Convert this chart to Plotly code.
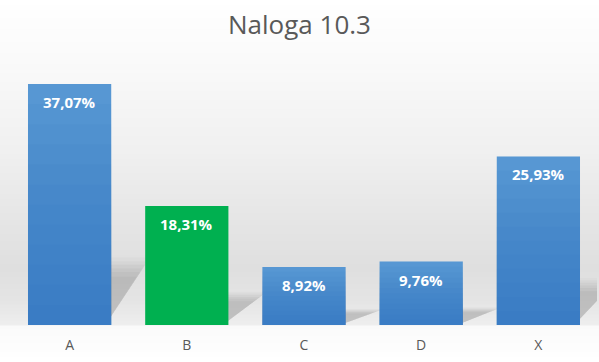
import plotly.graph_objects as go

categories = ["A", "B", "C", "D", "X"]
values = [37.07, 18.31, 8.92, 9.76, 25.93]
bar_colors = ["#5B9BD5", "#00B050", "#5B9BD5", "#5B9BD5", "#5B9BD5"]
gradient_on = [True, False, True, True, True]
title_text = "Naloga 10.3"

W, H = 599, 362
M_L, M_R, M_T, M_B = 11, 2, 65, 37
Y_MAX = 40
GAP = 0.29
plot_h = H - M_T - M_B

fig = go.Figure()
fig.add_trace(go.Bar(
    x=categories, y=values,
    marker=dict(color=bar_colors, line=dict(width=0)),
    hoverinfo="skip",
))

shapes = []
stops = [(0, 255), (60, 250), (150, 240), (230, 228), (268, 223), (300, 228), (325, 238), (326, 250), (362, 255)]
def gray_at(py):
    for (y0, g0), (y1, g1) in zip(stops[:-1], stops[1:]):
        if y0 <= py <= y1:
            t = 0 if y1 == y0 else (py - y0) / (y1 - y0)
            return g0 + (g1 - g0) * t
    return 255
step = 2
for py in range(0, H, step):
    g = int(round(gray_at(py + step / 2)))
    y_top = (H - M_B - py) / plot_h
    y_bot = (H - M_B - py - step) / plot_h
    shapes.append(dict(type="rect", xref="paper", yref="paper", x0=-0.05, x1=1.05,
                       y0=y_bot, y1=y_top + 0.002, fillcolor=f"rgb({g},{g},{g})",
                       line=dict(width=0), layer="below"))

half = (1 - GAP) / 2
# soft perspective shadows
for i, v in enumerate(values):
    xr = i + half
    for (dxs, hs, op) in [(0.33, 0.28, 0.04), (0.31, 0.265, 0.05), (0.29, 0.25, 0.06),
                          (0.27, 0.235, 0.07), (0.25, 0.22, 0.08), (0.22, 0.20, 0.08)]:
        path = f"M {xr - 0.05},0 L {xr - 0.05},{v * hs} L {xr + dxs},{v * hs} Z"
        shapes.append(dict(type="path", xref="x", yref="y", path=path,
                           fillcolor=f"rgba(110,110,110,{op})", line=dict(width=0), layer="below"))

# vertical gradient on blue bars
N = 12
for i, (v, on) in enumerate(zip(values, gradient_on)):
    if not on:
        continue
    for k in range(1, N + 1):
        shapes.append(dict(type="rect", xref="x", yref="y", x0=i - half, x1=i + half,
                           y0=0, y1=v * k / N, fillcolor="rgba(30,100,190,0.06)",
                           line=dict(width=0), layer="above"))

annotations = []
for c, v in zip(categories, values):
    annotations.append(dict(x=c, y=v, xref="x", yref="y", yanchor="middle", yshift=-18,
                            text=f"{v:.2f}%".replace(".", ","), showarrow=False,
                            font=dict(family="Open Sans", size=15, color="white", weight="bold")))

fig.update_layout(
    width=W, height=H,
    margin=dict(l=M_L, r=M_R, t=M_T, b=M_B, autoexpand=False),
    paper_bgcolor="white", plot_bgcolor="rgba(0,0,0,0)",
    title=dict(text=title_text, x=0.5, xanchor="center", y=1 - 25 / H, yanchor="middle",
               font=dict(family="Open Sans", size=26, color="#595959")),
    bargap=GAP,
    showlegend=False,
    shapes=shapes,
    annotations=annotations,
    xaxis=dict(range=[-0.5, len(categories) - 0.5], showgrid=False, showline=False,
               zeroline=False, ticks="", ticklabelstandoff=10,
               tickfont=dict(family="Open Sans", size=14, color="#595959")),
    yaxis=dict(range=[0, Y_MAX], visible=False, showgrid=False, zeroline=False),
)

fig.write_html("out.html", config={"displayModeBar": False},
               post_script="document.body.style.margin='0';document.body.style.overflow='hidden';")
